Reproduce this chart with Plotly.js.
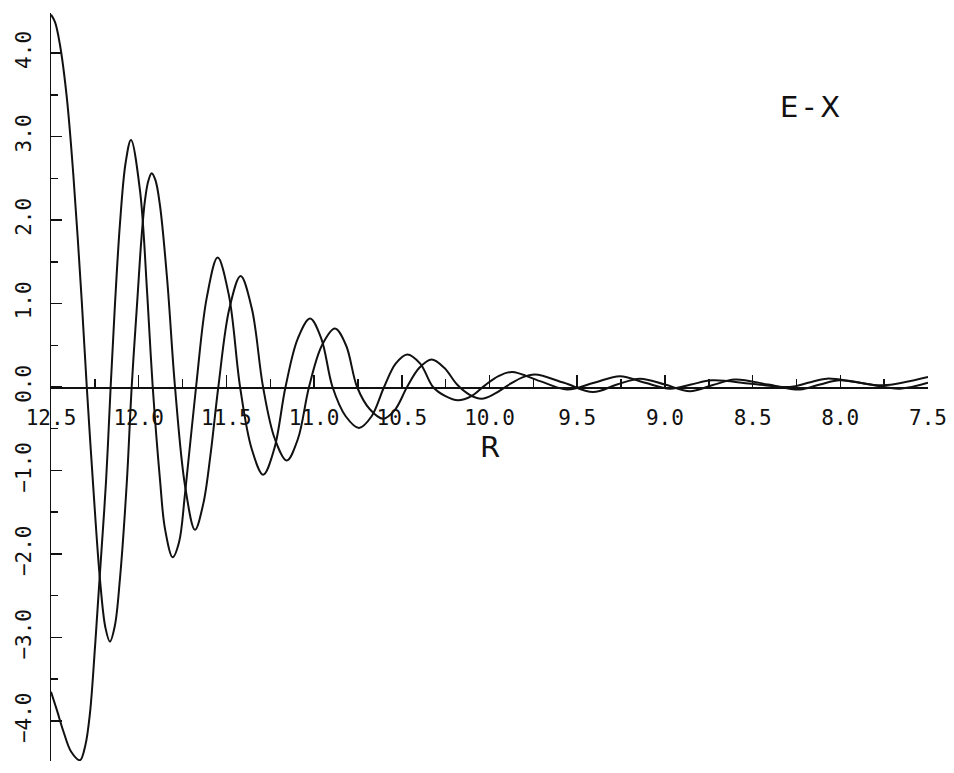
<!DOCTYPE html>
<html>
<head>
<meta charset="utf-8">
<script src="https://cdn.plot.ly/plotly-3.0.1.min.js"></script>
<style>html,body{margin:0;padding:0;background:#fff;}#chart{width:954px;height:773px;}</style>
</head>
<body>
<div id="chart"></div>
<script>
// Curve 1 (starts at the +4.47 maximum at R = 12.5)
const rA = [12.500, 12.477, 12.449, 12.410, 12.373, 12.325, 12.296, 12.259, 12.221, 12.190,
            12.164, 12.136, 12.107, 12.068, 12.040, 12.006, 11.985, 11.964, 11.945, 11.926,
            11.905, 11.879, 11.837, 11.793, 11.736, 11.679, 11.632, 11.590, 11.546, 11.483,
            11.419, 11.355, 11.291, 11.224, 11.156, 11.092, 11.029, 10.955, 10.881, 10.818,
            10.755, 10.681, 10.607, 10.538, 10.470, 10.400, 10.330, 10.258, 10.185, 10.115,
            10.045, 9.970, 9.895, 9.818, 9.741, 9.575, 9.410, 9.273, 9.142, 9.000,
            8.857, 8.731, 8.600, 8.412, 8.230, 8.116, 8.002, 7.831, 7.660, 7.500];
const eA = [4.46, 4.37, 4.10, 3.47, 2.55, 1.04, 0.00, -1.20, -2.30, -2.88,
            -3.05, -2.86, -2.30, -1.15, 0.00, 1.10, 1.76, 2.24, 2.47, 2.56,
            2.48, 2.18, 1.27, 0.00, -1.18, -1.71, -1.40, -0.80, 0.00, 0.94,
            1.33, 0.94, 0.00, -0.62, -0.88, -0.62, 0.00, 0.50, 0.70, 0.50,
            0.00, -0.27, -0.38, -0.27, 0.00, 0.23, 0.33, 0.23, 0.03, -0.09,
            -0.14, -0.08, 0.02, 0.11, 0.15, 0.05, -0.06, 0.03, 0.10, 0.03,
            -0.05, 0.02, 0.09, 0.03, -0.03, 0.03, 0.08, 0.03, -0.02, 0.05];

// Curve 2 (starts at -3.65, deepest minimum -4.47)
const rB = [12.500, 12.465, 12.430, 12.385, 12.335, 12.305, 12.278, 12.249, 12.221, 12.186,
            12.160, 12.135, 12.107, 12.075, 12.044, 11.993, 11.951, 11.920, 11.879, 11.850,
            11.806, 11.770, 11.736, 11.673, 11.612, 11.550, 11.486, 11.422, 11.356, 11.290,
            11.227, 11.163, 11.093, 11.023, 10.959, 10.895, 10.820, 10.744, 10.672, 10.601,
            10.535, 10.469, 10.395, 10.322, 10.251, 10.180, 10.103, 10.026, 9.949, 9.872,
            9.712, 9.558, 9.404, 9.256, 9.113, 8.971, 8.851, 8.731, 8.509, 8.287,
            8.184, 8.076, 7.916, 7.757, 7.500];
const eB = [-3.65, -3.88, -4.12, -4.37, -4.47, -4.30, -3.91, -3.11, -2.23, -1.12,
            0.00, 1.00, 1.95, 2.68, 2.96, 2.36, 1.10, 0.00, -1.10, -1.70,
            -2.04, -1.86, -1.28, 0.00, 1.07, 1.55, 1.10, 0.00, -0.74, -1.05,
            -0.74, 0.00, 0.58, 0.82, 0.58, 0.00, -0.35, -0.49, -0.35, 0.00,
            0.28, 0.39, 0.28, 0.00, -0.11, -0.16, -0.11, 0.02, 0.13, 0.18,
            0.07, -0.03, 0.05, 0.13, 0.05, -0.02, 0.03, 0.08, 0.04, 0.00,
            0.05, 0.10, 0.06, 0.02, 0.12];

const xRange = [12.5, 7.5];
const yRange = [-4.48, 4.48];
const xTitle = 'R';
const plotLabel = 'E\u2009-\u2009X';

const lineStyle = {color: '#111', width: 2, shape: 'spline', smoothing: 1};
const traces = [
  {x: rA, y: eA, mode: 'lines', line: lineStyle, hoverinfo: 'skip', showlegend: false},
  {x: rB, y: eB, mode: 'lines', line: lineStyle, hoverinfo: 'skip', showlegend: false}
];

const tickFont = {family: 'DejaVu Sans Mono, monospace', size: 21, color: '#111'};

const layout = {
  width: 954, height: 773,
  margin: {l: 51, r: 26, t: 12.6, b: 12.2, pad: 0},
  paper_bgcolor: '#fff', plot_bgcolor: '#fff',
  showlegend: false,
  xaxis: {
    range: xRange, anchor: 'free', position: 0.5,
    showgrid: false, zeroline: false,
    showline: true, linecolor: '#111', linewidth: 1.5,
    ticks: 'inside', ticklen: 12, tickwidth: 1.5, tickcolor: '#111',
    dtick: 0.5, tick0: 7.5, tickformat: '.1f',
    minor: {dtick: 0.25, tick0: 7.5, ticks: 'inside', ticklen: 8, tickwidth: 1.5, tickcolor: '#111', showgrid: false},
    tickfont: tickFont, ticklabelstandoff: 11
  },
  yaxis: {
    range: yRange,
    showgrid: false, zeroline: false,
    showline: true, linecolor: '#111', linewidth: 1.5,
    ticks: 'inside', ticklen: 11, tickwidth: 1.5, tickcolor: '#111',
    dtick: 1, tick0: 0, tickformat: '.1f', tickangle: -90,
    minor: {dtick: 0.5, tick0: 0, ticks: 'inside', ticklen: 7, tickwidth: 1.5, tickcolor: '#111', showgrid: false},
    tickfont: tickFont, ticklabelstandoff: 10
  },
  annotations: [
    {x: 10.0, y: -0.72, xref: 'x', yref: 'y', text: xTitle, showarrow: false,
     xanchor: 'center', yanchor: 'middle',
     font: {family: 'DejaVu Sans, sans-serif', size: 29, color: '#111'}},
    {x: 8.173, y: 3.36, xref: 'x', yref: 'y', text: plotLabel, showarrow: false,
     xanchor: 'center', yanchor: 'middle',
     font: {family: 'DejaVu Sans, sans-serif', size: 29, color: '#111'}}
  ]
};

Plotly.newPlot('chart', traces, layout, {displayModeBar: false, staticPlot: true});
</script>
</body>
</html>
